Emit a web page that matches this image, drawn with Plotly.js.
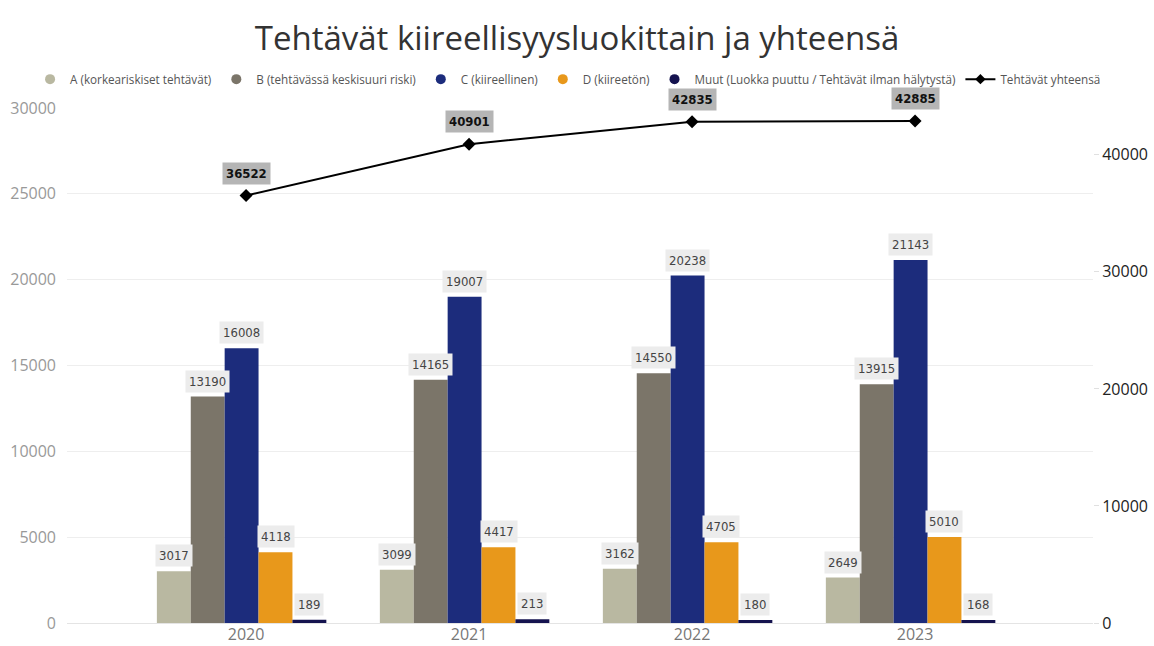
<!DOCTYPE html>
<html>
<head>
<meta charset="utf-8">
<script src="https://cdn.plot.ly/plotly-3.0.1.min.js"></script>
<style>
  body { margin: 0; background: #fff; }
  #chart { width: 1154px; height: 646px; }
</style>
</head>
<body>
<div id="chart"></div>
<script>
var years = ['2020', '2021', '2022', '2023'];
var seriesNames = [
  'A (korkeariskiset tehtävät)',
  'B (tehtävässä keskisuuri riski)',
  'C (kiireellinen)',
  'D (kiireetön)',
  'Muut (Luokka puuttu / Tehtävät ilman hälytystä)'
];
var valuesA = [3017, 3099, 3162, 2649];
var valuesB = [13190, 14165, 14550, 13915];
var valuesC = [16008, 19007, 20238, 21143];
var valuesD = [4118, 4417, 4705, 5010];
var valuesMuut = [189, 213, 180, 168];
var totals = [36522, 40901, 42835, 42885];
var totalName = 'Tehtävät yhteensä';

var colors = ['#b9b8a1', '#7b7569', '#1c2c7c', '#e8981b', '#15134f'];
var allValues = [valuesA, valuesB, valuesC, valuesD, valuesMuut];

// bar width and a small left shift of the group, in category units
var barW = 0.152;
var groupShift = -0.02;
var labelFont = 'DejaVu Sans Condensed, Roboto, sans-serif';

var data = [];
var annotations = [];

// bars (legend drawn by the dummy traces below, so it gets round markers)
allValues.forEach(function (vals, i) {
  var off = (i - allValues.length / 2) * barW + groupShift;
  data.push({
    type: 'bar',
    x: years,
    y: vals,
    name: seriesNames[i],
    width: barW,
    offset: off,
    marker: {color: colors[i], line: {width: 0}},
    showlegend: false,
    hoverinfo: 'x+y+name'
  });
  vals.forEach(function (v, j) {
    annotations.push({
      x: j + off + barW / 2,
      y: v,
      xref: 'x', yref: 'y',
      yanchor: 'bottom',
      yshift: 4,
      text: String(v),
      showarrow: false,
      bgcolor: '#ececec',
      borderpad: 3,
      font: {family: labelFont, size: 13, color: '#444'}
    });
  });
});

data.push({
  type: 'scatter',
  mode: 'lines+markers',
  x: years,
  y: totals,
  yaxis: 'y2',
  name: totalName,
  line: {color: '#000', width: 2},
  marker: {symbol: 'diamond', size: 10, color: '#000'},
  showlegend: false
});

totals.forEach(function (v, j) {
  annotations.push({
    x: j,
    y: v,
    xref: 'x', yref: 'y2',
    yanchor: 'bottom',
    yshift: 11,
    text: '<b>' + v + '</b>',
    showarrow: false,
    bgcolor: '#b5b5b5',
    borderpad: 3,
    font: {family: labelFont, size: 13, color: '#111'}
  });
});

// legend entries
seriesNames.forEach(function (n, i) {
  data.push({
    type: 'scatter', mode: 'markers',
    x: [null], y: [null],
    name: n,
    marker: {symbol: 'circle', size: 10, color: colors[i]},
    hoverinfo: 'skip'
  });
});
data.push({
  type: 'scatter', mode: 'lines+markers',
  x: [null], y: [null],
  name: totalName,
  line: {color: '#000', width: 2},
  marker: {symbol: 'diamond', size: 8, color: '#000'},
  hoverinfo: 'skip'
});

var layout = {
  width: 1154,
  height: 646,
  margin: {l: 67, r: 61, t: 108, b: 23},
  paper_bgcolor: '#fff',
  plot_bgcolor: '#fff',
  font: {family: 'Open Sans, sans-serif', color: '#555'},
  title: {
    text: 'Tehtävät kiireellisyysluokittain ja yhteensä',
    font: {family: 'Open Sans, sans-serif', size: 33, color: '#333'},
    x: 0.5, xanchor: 'center',
    y: 0.94, yanchor: 'middle'
  },
  barmode: 'overlay',
  showlegend: true,
  legend: {
    orientation: 'h',
    x: -0.036, xanchor: 'left',
    y: 1.056, yanchor: 'middle',
    font: {family: 'Open Sans, sans-serif', size: 11.7, color: '#555'},
    itemwidth: 30,
    tracegroupgap: 0,
    traceorder: 'normal'
  },
  xaxis: {
    type: 'category',
    range: [-0.803, 3.798],
    showgrid: false,
    showline: false,
    zeroline: false,
    ticks: '',
    tickfont: {size: 16, color: '#777'}
  },
  yaxis: {
    range: [0, 30000],
    dtick: 5000,
    tickformat: 'd',
    showgrid: true,
    gridcolor: '#eeeeee',
    zeroline: true,
    zerolinecolor: '#e4e4e4',
    zerolinewidth: 1,
    ticks: '',
    ticklabelstandoff: 10,
    tickfont: {size: 16, color: '#999'}
  },
  yaxis2: {
    overlaying: 'y',
    side: 'right',
    range: [0, 44000],
    dtick: 10000,
    tickformat: 'd',
    showgrid: false,
    zeroline: false,
    ticks: 'outside',
    ticklen: 5,
    tickcolor: '#e0e0e0',
    tickfont: {size: 16, color: '#222'}
  },
  annotations: annotations
};

Plotly.newPlot('chart', data, layout, {displayModeBar: false});
</script>
</body>
</html>
